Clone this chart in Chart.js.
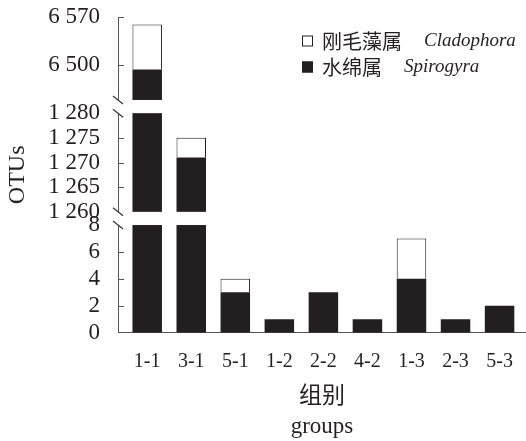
<!DOCTYPE html>
<html>
<head>
<meta charset="utf-8">
<script src="https://cdn.jsdelivr.net/npm/chart.js@4"></script>
<style>
  body { margin: 0; background: #fff; }
  #wrap { width: 526px; height: 441px; position: relative; }
</style>
</head>
<body>
<div id="wrap"><canvas id="myChart"></canvas></div>
<script>
// 组别
const categories = ['1-1', '3-1', '5-1', '1-2', '2-2', '4-2', '1-3', '2-3', '5-3'];
// 水绵属 Spirogyra (下层, 黑)
const spirogyra = [6494, 1271, 3, 1, 3, 1, 4, 1, 2];
// 刚毛藻属 Cladophora (上层, 白)
const cladophora = [65, 4, 1, 0, 0, 0, 3, 0, 0];
const seriesCn = ['水绵属', '刚毛藻属'];
const seriesLatin = ['Spirogyra', 'Cladophora'];

// y轴刻度
const yTicks = [0, 2, 4, 6, 8, 1260, 1265, 1270, 1275, 1280, 6500, 6570];

// 断轴: 三段, size 是各段高度比例
const segments = [
  { from: 0, to: 8, size: 107.7 },
  { from: 1260, to: 1280, size: 98.7 },
  { from: 6450, to: 6570, size: 83 },
];
const GAP = 13.2;

const INK = '#231f20';
const AXIS = '#555555';
const FONT = '"Liberation Serif", "Noto Sans CJK SC", serif';

Chart.defaults.font.family = FONT;
Chart.defaults.color = INK;

class BrokenScale extends Chart.LinearScale {
  buildTicks() {
    return yTicks.map(v => ({ value: v }));
  }
  segPixels() {
    const total = segments.reduce((s, g) => s + g.size, 0) + GAP * (segments.length - 1);
    const k = (this.bottom - this.top) / total;
    let y = this.bottom;
    return segments.map(g => {
      const r = { from: g.from, to: g.to, y0: y, y1: y - g.size * k };
      y = r.y1 - GAP * k;
      return r;
    });
  }
  getPixelForValue(value) {
    if (value === null || value === undefined || isNaN(value)) return NaN;
    const segs = this.segPixels();
    for (const s of segs) {
      if (value <= s.to) {
        const t = Math.max(0, (value - s.from) / (s.to - s.from));
        return s.y0 + (s.y1 - s.y0) * t;
      }
    }
    return segs[segs.length - 1].y1;
  }
  getValueForPixel(pixel) {
    const segs = this.segPixels();
    for (const s of segs) {
      if (pixel >= s.y1) {
        const t = (s.y0 - pixel) / (s.y0 - s.y1);
        return s.from + t * (s.to - s.from);
      }
    }
    return segments[segments.length - 1].to;
  }
}
BrokenScale.id = 'broken';
BrokenScale.defaults = {};
Chart.register(BrokenScale);

// 断开处留白, 内向刻度, 断轴符号, 图例
const brokenAxisPlugin = {
  id: 'brokenAxis',
  afterDatasetsDraw(chart) {
    const ctx = chart.ctx;
    const yScale = chart.scales.y;
    const area = chart.chartArea;
    const segs = yScale.segPixels();
    ctx.save();

    ctx.fillStyle = '#fff';
    for (let i = 0; i < segs.length - 1; i++) {
      const top = segs[i + 1].y0;
      ctx.fillRect(area.left - 3, top, area.right - area.left + 3, segs[i].y1 - top);
    }

    ctx.strokeStyle = AXIS;
    ctx.lineWidth = 1;
    const breakVals = [];
    segments.forEach((g, i) => {
      if (i > 0) breakVals.push(g.from);
      if (i < segments.length - 1) breakVals.push(g.to);
    });
    yTicks.forEach(v => {
      if (v === 0 || breakVals.includes(v)) return;
      const py = Math.round(yScale.getPixelForValue(v)) + 0.5;
      ctx.beginPath();
      ctx.moveTo(area.left, py);
      ctx.lineTo(area.left + 6, py);
      ctx.stroke();
    });

    ctx.strokeStyle = '#333';
    ctx.lineWidth = 1.2;
    segs.forEach((s, i) => {
      const ends = [];
      if (i > 0) ends.push(s.y0);
      if (i < segs.length - 1) ends.push(s.y1);
      ends.forEach(py => {
        ctx.beginPath();
        ctx.moveTo(area.left - 5, py - 4);
        ctx.lineTo(area.left + 5, py + 4);
        ctx.stroke();
      });
    });

    // 图例
    const rows = [1, 0];
    rows.forEach((di, r) => {
      const ds = chart.data.datasets[di];
      const cy = 41 + r * 26;
      ctx.fillStyle = ds.backgroundColor;
      ctx.fillRect(302, cy - 5.5, 11, 11);
      ctx.strokeStyle = INK;
      ctx.lineWidth = 1;
      ctx.strokeRect(302.5, cy - 5, 10, 10);
      ctx.fillStyle = INK;
      ctx.textBaseline = 'middle';
      ctx.textAlign = 'left';
      ctx.font = '20px "Noto Sans CJK SC"';
      ctx.fillText(seriesCn[di], 322, cy);
      const w = ctx.measureText(seriesCn[di]).width;
      ctx.font = 'italic 19px "Liberation Serif"';
      ctx.fillText(seriesLatin[di], 322 + w + 22, cy);
    });
    ctx.restore();
  }
};

const data = {
  datasets: [
    {
      label: seriesCn[0] + ' ' + seriesLatin[0],
      data: spirogyra.map((v, i) => ({ x: i, y: v })),
      backgroundColor: INK,
      borderWidth: 0,
      clip: 0,
    },
    {
      label: seriesCn[1] + ' ' + seriesLatin[1],
      data: cladophora.map((v, i) => ({ x: i, y: v })),
      backgroundColor: '#ffffff',
      borderColor: INK,
      borderWidth: 1,
      clip: 0,
    },
  ],
};

const config = {
  type: 'bar',
  data: data,
  options: {
    responsive: true,
    maintainAspectRatio: false,
    animation: false,
    categoryPercentage: 0.67,
    barPercentage: 1,
    layout: { padding: { top: 17, left: 0, right: 0, bottom: 0 } },
    plugins: { legend: { display: false }, tooltip: { enabled: false } },
    scales: {
      x: {
        type: 'linear',
        stacked: true,
        offset: false,
        min: -0.663,
        max: 8.6,
        afterBuildTicks: scale => {
          scale.ticks = categories.map((c, i) => ({ value: i }));
        },
        afterFit: scale => {
          scale.height = 441 - 332.7;
          scale.paddingLeft = 0;
          scale.paddingRight = 0;
        },
        grid: { display: false, drawTicks: false },
        border: { display: true, color: AXIS, width: 1 },
        ticks: {
          autoSkip: false,
          maxRotation: 0,
          padding: 17,
          font: { size: 20 },
          color: INK,
          callback: v => categories[v],
        },
        title: {
          display: true,
          text: ['组别', 'groups'],
          font: { size: 23, lineHeight: 1.3 },
          color: INK,
          padding: { top: 0, bottom: -1 },
        },
      },
      y: {
        type: 'broken',
        stacked: true,
        min: 0,
        max: 6570,
        afterFit: scale => {
          scale.width = 118;
          scale.paddingTop = 0;
          scale.paddingBottom = 0;
        },
        grid: { display: false, drawTicks: false },
        border: { display: true, color: AXIS, width: 1 },
        ticks: {
          autoSkip: false,
          padding: 18,
          font: { size: 23 },
          color: INK,
          callback: v => String(v).replace(/\B(?=(\d{3})+(?!\d))/g, ' '),
        },
        title: {
          display: true,
          text: 'OTUs',
          font: { size: 24, lineHeight: 1.2 },
          color: INK,
          padding: { top: 3, bottom: 0 },
        },
      },
    },
  },
  plugins: [brokenAxisPlugin],
};

const myChart = new Chart(document.getElementById('myChart'), config);
</script>
</body>
</html>
